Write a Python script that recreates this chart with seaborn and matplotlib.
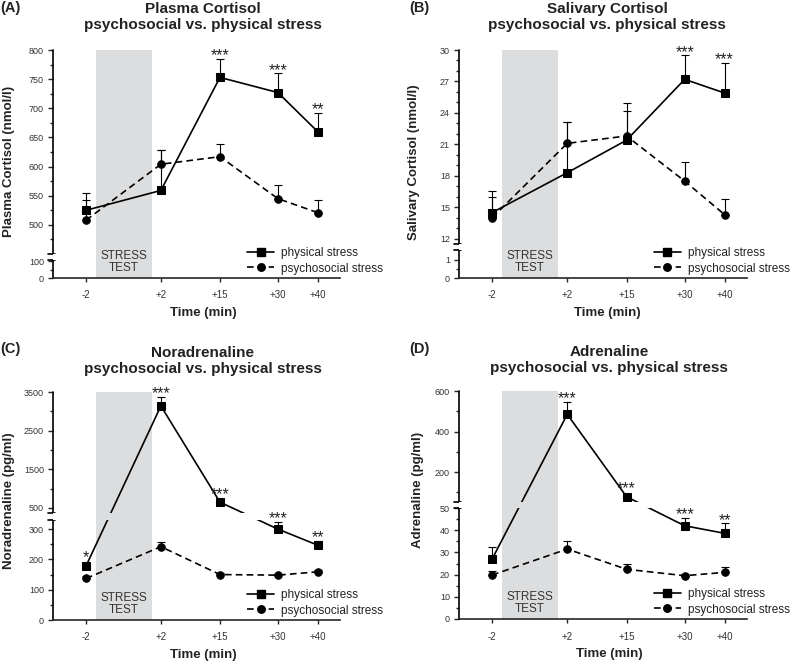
import numpy as np
import pandas as pd
import matplotlib
matplotlib.use("Agg")
import matplotlib.pyplot as plt
import seaborn as sns
from matplotlib.lines import Line2D

# data (mean, upper SEM)
times = ["-2", "+2", "+15", "+30", "+40"]
groups = ["physical stress", "psychosocial stress"]

plasma_phys = [525, 559, 753, 727, 660]
plasma_phys_err = [30, 69, 32, 33, 32]
plasma_psy = [508, 604, 617, 545, 521]
plasma_psy_err = [35, 24, 21, 24, 21]
plasma_stars = ["", "", "***", "***", "**"]

saliva_phys = [14.5, 18.3, 21.4, 27.2, 25.9]
saliva_phys_err = [2.1, 4.8, 2.8, 2.3, 2.9]
saliva_psy = [14.0, 21.1, 21.8, 17.5, 14.3]
saliva_psy_err = [2.0, 2.0, 3.1, 1.8, 1.5]
saliva_stars = ["", "", "", "***", "***"]

nora_phys = [178, 3140, 650, 300, 247]
nora_phys_err = [10, 240, 30, 24, 14]
nora_psy = [137, 242, 150, 148, 159]
nora_psy_err = [8, 16, 5, 5, 5]
nora_stars = ["*", "***", "***", "***", "**"]

adren_phys = [27.0, 485, 78, 42.0, 38.6]
adren_phys_err = [5.5, 62, 3, 3.7, 4.5]
adren_psy = [19.8, 31.5, 22.4, 19.5, 21.0]
adren_psy_err = [2.0, 3.6, 2.2, 0.8, 2.3]
adren_stars = ["", "***", "***", "***", "**"]

# layout
x_pos = [0, 1.28, 2.29, 3.28, 3.96]
W, H = 793, 661
GRAY = "#dcdddf"
TXT = "#222222"

sns.set_style("ticks")
plt.rcParams["font.family"] = ["Liberation Sans", "DejaVu Sans"]

fig = plt.figure(figsize=(W / 100, H / 100), dpi=100)


def broken_scale(lo1, up0, up1, h_lo, h_gap, h_up):
    b1 = h_lo
    b2 = h_lo + h_gap

    def fwd(y):
        y = np.asarray(y, dtype=float)
        return np.where(y <= lo1, y / lo1 * h_lo,
                        np.where(y <= up0, b1 + (y - lo1) / (up0 - lo1) * h_gap,
                                 b2 + (y - up0) / (up1 - up0) * h_up))

    def inv(z):
        z = np.asarray(z, dtype=float)
        return np.where(z <= b1, z / h_lo * lo1,
                        np.where(z <= b2, lo1 + (z - b1) / h_gap * (up0 - lo1),
                                 up0 + (z - b2) / h_up * (up1 - up0)))
    return fwd, inv


panels = [
    dict(letter="(A)", title="Plasma Cortisol", ylabel="Plasma Cortisol (nmol/l)",
         phys=plasma_phys, phys_err=plasma_phys_err, psy=plasma_psy, psy_err=plasma_psy_err,
         stars=plasma_stars, box=(53, 50, 340, 278), cx=203, lab_x=9, lab_y=161,
         brk=(106, 450, 800, 18, 6, 204),
         major=[0, 100, 500, 550, 600, 650, 700, 750, 800],
         minor=[50, 475, 525, 575, 625, 675, 725, 775]),
    dict(letter="(B)", title="Salivary Cortisol", ylabel="Salivary Cortisol (nmol/l)",
         phys=saliva_phys, phys_err=saliva_phys_err, psy=saliva_psy, psy_err=saliva_psy_err,
         stars=saliva_stars, box=(459, 50, 747, 278), cx=607, lab_x=414, lab_y=162,
         brk=(1.55, 11.5, 30, 28, 6, 194),
         major=[0, 1, 12, 15, 18, 21, 24, 27, 30],
         minor=[0.5] + [v for v in range(13, 30) if v % 3 != 0]),
    dict(letter="(C)", title="Noradrenaline", ylabel="Noradrenaline (pg/ml)",
         phys=nora_phys, phys_err=nora_phys_err, psy=nora_psy, psy_err=nora_psy_err,
         stars=nora_stars, box=(53, 392, 340, 620), cx=203, lab_x=9, lab_y=501,
         brk=(330, 370, 3500, 100, 7, 121),
         major=[0, 100, 200, 300, 500, 1500, 2500, 3500],
         minor=[50, 150, 250, 1000, 2000, 3000]),
    dict(letter="(D)", title="Adrenaline", ylabel="Adrenaline (pg/ml)",
         phys=adren_phys, phys_err=adren_phys_err, psy=adren_psy, psy_err=adren_psy_err,
         stars=adren_stars, box=(459, 391, 747, 619), cx=609, lab_x=418, lab_y=490,
         brk=(50, 52, 600, 111, 6, 111),
         major=[0, 10, 20, 30, 40, 50, 200, 400, 600],
         minor=[5, 15, 25, 35, 45, 100, 300, 500]),
]

for p in panels:
    left, top, right, bottom = p["box"]
    ax = fig.add_axes([left / W, 1 - bottom / H, (right - left) / W, (bottom - top) / H])
    ax_w, ax_h = right - left, bottom - top
    lo1, up0, up1, h_lo, h_gap, h_up = p["brk"]

    # stress test period
    ax.axvspan(0.17, 1.12, color=GRAY, lw=0, zorder=0.5)
    ax.text(0.645, 4 / ax_h, "STRESS\nTEST", ha="center", va="bottom", fontsize=8.5,
            color="#333333", linespacing=1.05,
            transform=ax.get_xaxis_transform())

    df = pd.DataFrame({
        "pos": x_pos * 2,
        "value": list(p["phys"]) + list(p["psy"]),
        "group": [groups[0]] * 5 + [groups[1]] * 5,
    })
    sns.lineplot(data=df, x="pos", y="value", style="group", ax=ax,
                 markers={groups[0]: "s", groups[1]: "o"},
                 dashes={groups[0]: "", groups[1]: (4, 2.5)},
                 color="black", markersize=5.4, markeredgecolor="black",
                 linewidth=1.2, errorbar=None, legend=False, sort=False)
    ax.errorbar(x_pos, p["phys"], yerr=[np.zeros(5), p["phys_err"]], fmt="none",
                ecolor="black", elinewidth=0.8, capsize=2.6, capthick=0.8, zorder=1.8)
    ax.errorbar(x_pos, p["psy"], yerr=[np.zeros(5), p["psy_err"]], fmt="none",
                ecolor="black", elinewidth=0.8, capsize=2.6, capthick=0.8, zorder=1.8)

    fwd, inv = broken_scale(lo1, up0, up1, h_lo, h_gap, h_up)
    ax.set_yscale("function", functions=(fwd, inv))
    ax.set_ylim(0, up1)
    ax.set_xlim(-(86 - 53) / 58.5, (340 - 86) / 58.5)

    # hide the data lines inside the axis break
    ax.axhspan(lo1, up0, color="white", lw=0, zorder=2.5)
    ax.fill_between([0.17, 1.12], lo1, up0, color=GRAY, lw=0, zorder=2.6)

    ax.set_yticks(p["major"])
    ax.set_yticks(p["minor"], minor=True)
    ax.set_yticklabels([f"{v:g}" for v in p["major"]])
    ax.set_xticks(x_pos)
    ax.set_xticklabels(times)
    ax.tick_params(axis="y", which="major", length=3.5, width=1, pad=3,
                   labelsize=6.5, labelcolor="#333333")
    ax.tick_params(axis="y", which="minor", length=2, width=1)
    ax.tick_params(axis="x", length=3, width=1, pad=6, labelsize=7, labelcolor="#333333")
    ax.set_xlabel("")
    ax.set_ylabel("")

    for s in ["top", "right", "left"]:
        ax.spines[s].set_visible(False)
    ax.spines["bottom"].set_linewidth(1.2)

    # broken left spine
    total = h_lo + h_gap + h_up
    f1, f2 = h_lo / total, (h_lo + h_gap) / total
    tr = ax.transAxes
    ax.add_line(Line2D([0, 0], [0, f1], transform=tr, color="black", lw=1.2, clip_on=False))
    ax.add_line(Line2D([0, 0], [f2, 1], transform=tr, color="black", lw=1.2, clip_on=False))
    mk = 5 / ax_w
    for f in (f1, f2):
        ax.add_line(Line2D([-mk, 2 / ax_w], [f, f], transform=tr, color="black",
                           lw=1.2, clip_on=False))

    # significance stars
    for xi, v, e, s in zip(x_pos, p["phys"], p["phys_err"], p["stars"]):
        if not s:
            continue
        y_pt = ax.transData.transform((xi, v))[1]
        y_top = ax.transData.transform((xi, v + e))[1]
        center = max(y_top - y_pt + 7, 12)
        off = (center - 8.5) * 0.72
        ax.annotate(s, xy=(xi, v), xytext=(0, off), textcoords="offset points",
                    ha="center", va="baseline", fontsize=11.5, color=TXT)

    handles = [
        Line2D([], [], color="black", marker="s", ms=5.4, lw=1.2),
        Line2D([], [], color="black", marker="o", ms=5.4, lw=1.2, dashes=(4, 2.5)),
    ]
    ax.legend(handles, groups, loc="lower left",
              bbox_to_anchor=((247 - 53) / 287, 0.015), frameon=False,
              fontsize=8.5, handlelength=2.3, handletextpad=0.6,
              labelspacing=0.3, borderpad=0, borderaxespad=0, labelcolor=TXT)

    # texts
    fig.text(p["cx"] / W, 1 - (top - 37 if top < 100 else top - 35) / H,
             p["title"], ha="center", va="baseline", fontsize=11,
             fontweight="bold", color=TXT)
    fig.text(p["cx"] / W, 1 - (top - 21 if top < 100 else top - 19) / H,
             "psychosocial vs. physical stress", ha="center", va="baseline",
             fontsize=11, fontweight="bold", color=TXT)
    fig.text((left - 53 + (0 if left < 100 else 3)) / W,
             1 - (12 if top < 100 else 353) / H, p["letter"],
             ha="left", va="baseline", fontsize=10.5, fontweight="bold", color=TXT)
    fig.text(p["cx"] / W, 1 - (bottom + 35) / H, "Time (min)", ha="center",
             va="center", fontsize=9.5, fontweight="bold", color=TXT)
    fig.text(p["lab_x"] / W, 1 - p["lab_y"] / H, p["ylabel"], rotation=90,
             ha="center", va="center", fontsize=9.5, fontweight="bold", color=TXT)

fig.savefig("out.png", dpi=100)
